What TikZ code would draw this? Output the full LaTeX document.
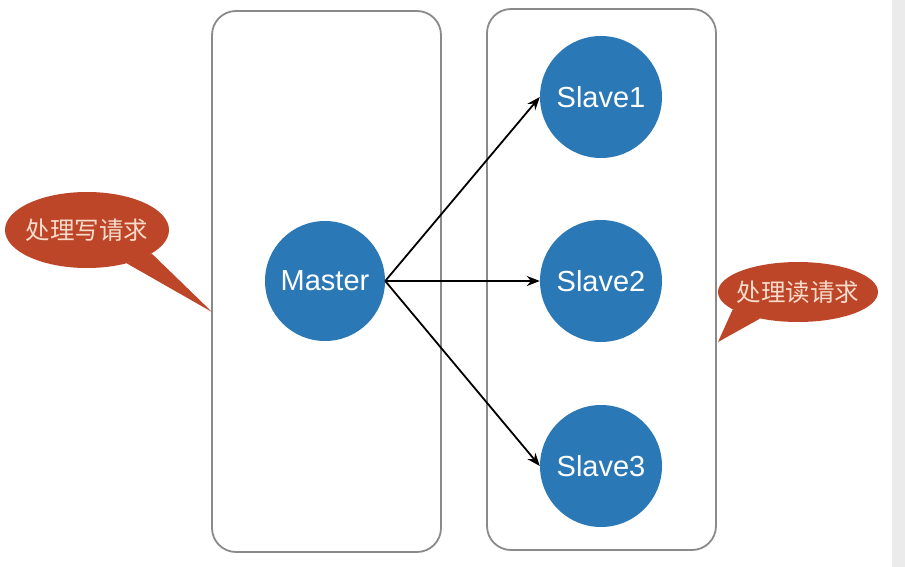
\documentclass[tikz,border=0pt]{standalone}
\usepackage{fontspec}
\setmainfont{Liberation Sans}
\newfontfamily\cjk{Noto Sans CJK SC}
\usepackage{tikz}
\usetikzlibrary{arrows.meta, shapes.geometric, positioning}
\definecolor{nodeblue}{HTML}{2B78B6}
\definecolor{notered}{HTML}{BD4629}
\definecolor{notetext}{HTML}{F8DCCB}
\definecolor{boxgray}{HTML}{8A8A8A}
\tikzstyle{group} = [draw=boxgray, line width=1.8pt, rounded corners=24pt]
\tikzstyle{server} = [circle, fill=nodeblue, text=white, inner sep=0, minimum size=122pt,
                      font=\fontsize{29}{29}\selectfont]
\tikzstyle{note} = [ellipse, fill=notered, text=notetext, inner ysep=0, inner xsep=-5pt,
                    font=\cjk\fontsize{24.5}{24.5}\selectfont]
\tikzstyle{link} = [-{Stealth[length=13pt, width=10pt]}, line width=1.8pt]

\begin{document}
\begin{tikzpicture}[x=1pt, y=-1pt]
					\useasboundingbox (0, 0) rectangle (905, 567);
					\fill[white] (0, 0) rectangle (905, 567);
					\fill[black!8] (892, 0) rectangle (905, 567);

					% the two groups
					\draw [group] (212, 11) rectangle (441, 552);
					\draw [group] (487, 9) rectangle (716, 550);

					% master and slaves
					\node (Master) [server, minimum size=120pt] at (325, 281) {Master};
					\node (Slave1) [server] at (601, 97) {Slave1};
					\node (Slave2) [server] at (601, 281) {Slave2};
					\node (Slave3) [server] at (601, 466) {Slave3};

					\draw [link] (Master.east) -- (Slave1.west);
					\draw [link] (Master.east) -- (Slave2.west);
					\draw [link] (Master.east) -- (Slave3.west);

					% write note
					\node (WriteNote) [note, inner xsep=-4pt, minimum width=164pt, minimum height=76pt] at (87, 230) {处理写请求};
					\coordinate (WriteTip) at (212, 312);
					\fill [notered] (WriteNote.-20) -- (WriteTip) -- (WriteNote.-40) -- cycle;

					% read note
					\node (ReadNote) [note, minimum width=160pt, minimum height=60pt] at (798, 292) {处理读请求};
					\coordinate (ReadTip) at (718, 342);
					\fill [notered] (ReadNote.-165) -- (ReadTip) -- (ReadNote.-145) -- cycle;
				\end{tikzpicture}
\end{document}
